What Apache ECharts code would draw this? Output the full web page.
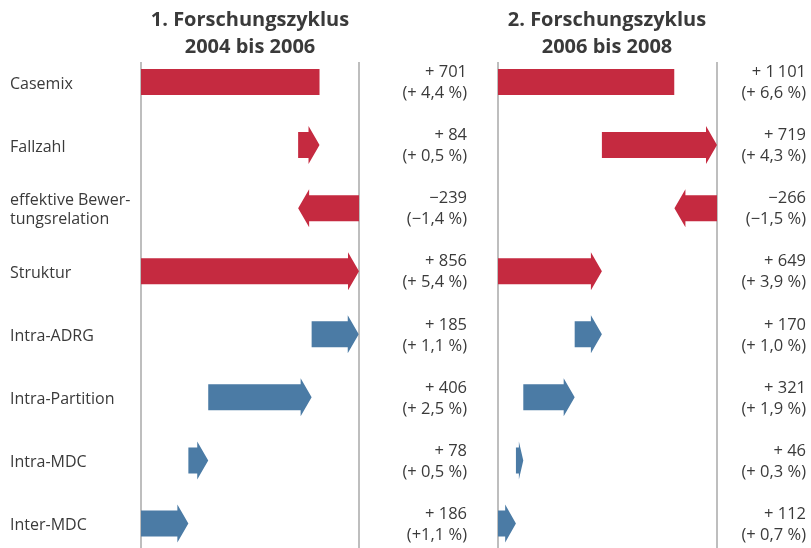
<!DOCTYPE html>
<html><head><meta charset="utf-8">
<script src="https://cdn.jsdelivr.net/npm/echarts@6/dist/echarts.min.js"></script>
<style>html,body{margin:0;background:#fff}#c{width:811px;height:548px}</style>
</head><body><div id="c"></div>
<script>
// Komponenten der Casemix-Veränderung, zwei Forschungszyklen
const categories = ['Casemix', 'Fallzahl', 'effektive Bewer-\ntungsrelation', 'Struktur',
  'Intra-ADRG', 'Intra-Partition', 'Intra-MDC', 'Inter-MDC'];
const cycle1Values = [701, 84, -239, 856, 185, 406, 78, 186];
const cycle2Values = [1101, 719, -266, 649, 170, 321, 46, 112];
const cycle1Percent = ['(+ 4,4 %)', '(+ 0,5 %)', '(\u22121,4 %)', '(+ 5,4 %)', '(+ 1,1 %)', '(+ 2,5 %)', '(+ 0,5 %)', '(+1,1 %)'];
const cycle2Percent = ['(+ 6,6 %)', '(+ 4,3 %)', '(\u22121,5 %)', '(+ 3,9 %)', '(+ 1,0 %)', '(+ 1,9 %)', '(+ 0,3 %)', '(+ 0,7 %)'];
const panelTitles = ['1. Forschungszyklus\n2004 bis 2006', '2. Forschungszyklus\n2006 bis 2008'];
// stacking order of the components (indices into categories)
const cycle1Steps = [3, 2, 1];
const cycle2Steps = [3, 1, 2];
const strukturSteps = [7, 6, 5, 4];

const RED = '#c52a40', BLUE = '#4b7ba5', TEXT = '#3a3a3a', FONT = '"Open Sans", "Noto Sans", sans-serif';

function fmtValue(v) {
  const s = Math.abs(v).toString().replace(/\B(?=(\d{3})+(?!\d))/g, '\u2009');
  return v < 0 ? '\u2212' + s : '+ ' + s;
}

function buildSpans(values, steps) {
  const spans = [];
  spans[0] = [0, values[0]];
  let pos = 0;
  steps.forEach(i => { spans[i] = [pos, pos + values[i]]; pos += values[i]; });
  pos = 0;
  strukturSteps.forEach(i => { spans[i] = [pos, pos + values[i]]; pos += values[i]; });
  return spans;
}

function buildData(values, steps, pct) {
  const spans = buildSpans(values, steps);
  return values.map((v, i) => ({
    value: [spans[i][0], spans[i][1], i],
    label: fmtValue(v) + '\n' + pct[i]
  }));
}

const data1 = buildData(cycle1Values, cycle1Steps, cycle1Percent);
const data2 = buildData(cycle2Values, cycle2Steps, cycle2Percent);
const max1 = Math.max(...data1.map(d => Math.max(d.value[0], d.value[1])));
const max2 = Math.max(...data2.map(d => Math.max(d.value[0], d.value[1])));

// labelRight: right edge of the value column; withNames: draw row names left of the panel
function makeRender(data, labelRight, withNames) {
  return function (params, api) {
    const i = api.value(2);
    const s = api.coord([api.value(0), i]);
    const e = api.coord([api.value(1), i]);
    const y = s[1];
    const cs = params.coordSys;
    const color = i < 4 ? RED : BLUE;
    const bh = 26, hh = 38;
    let shape;
    if (i === 0) {
      shape = { type: 'rect', shape: { x: s[0], y: y - bh / 2, width: e[0] - s[0], height: bh }, style: { fill: color } };
    } else {
      const dir = e[0] >= s[0] ? 1 : -1;
      const len = Math.abs(e[0] - s[0]);
      const hl = Math.min(11, len * 0.6);
      const b = e[0] - dir * hl;
      shape = {
        type: 'polygon',
        shape: { points: [[s[0], y - bh / 2], [b, y - bh / 2], [b, y - hh / 2], [e[0], y], [b, y + hh / 2], [b, y + bh / 2], [s[0], y + bh / 2]] },
        style: { fill: color }
      };
    }
    const children = [shape, {
      type: 'text',
      style: {
        text: data[params.dataIndex].label,
        x: labelRight, y: y + 1,
        align: 'right', verticalAlign: 'middle',
        fill: TEXT, font: '16.5px ' + FONT, lineHeight: 21
      }
    }];
    if (withNames) {
      children.push({
        type: 'text',
        style: {
          text: categories[i], x: cs.x - 131, y: y + 2,
          align: 'left', verticalAlign: 'middle',
          fill: TEXT, font: '16px ' + FONT, lineHeight: 19
        }
      });
    }
    return { type: 'group', children: children };
  };
}

const xAxisBase = {
  type: 'value', min: 0,
  axisLine: { show: false }, axisTick: { show: false }, axisLabel: { show: false },
  splitLine: { show: true, lineStyle: { color: '#a9a9a9', width: 1.5 } }
};
// rows are placed at integer positions 0..7 on an inverted value axis
const yAxisBase = {
  type: 'value', inverse: true, min: -0.317, max: 7.388,
  axisLine: { show: false }, axisTick: { show: false }, axisLabel: { show: false }, splitLine: { show: false }
};

const chart = echarts.init(document.getElementById('c'));
chart.setOption({
  backgroundColor: '#fff',
  animation: false,
  grid: [
    { left: 141, width: 218, top: 62, bottom: 0 },
    { left: 498, width: 219, top: 62, bottom: 0 }
  ],
  xAxis: [
    Object.assign({}, xAxisBase, { gridIndex: 0, max: max1, interval: max1 }),
    Object.assign({}, xAxisBase, { gridIndex: 1, max: max2, interval: max2 })
  ],
  yAxis: [
    Object.assign({}, yAxisBase, { gridIndex: 0 }),
    Object.assign({}, yAxisBase, { gridIndex: 1 })
  ],
  graphic: panelTitles.map((t, k) => ({
    type: 'text', x: k === 0 ? 250 : 607, y: 7,
    style: { text: t, align: 'center', fill: TEXT, font: 'bold 20px ' + FONT, lineHeight: 27 }
  })),
  series: [
    { type: 'custom', xAxisIndex: 0, yAxisIndex: 0, renderItem: makeRender(data1, 467, true), encode: { x: [0, 1], y: 2 }, data: data1.map(d => d.value), clip: false },
    { type: 'custom', xAxisIndex: 1, yAxisIndex: 1, renderItem: makeRender(data2, 806, false), encode: { x: [0, 1], y: 2 }, data: data2.map(d => d.value), clip: false }
  ]
});
</script>
</body></html>
